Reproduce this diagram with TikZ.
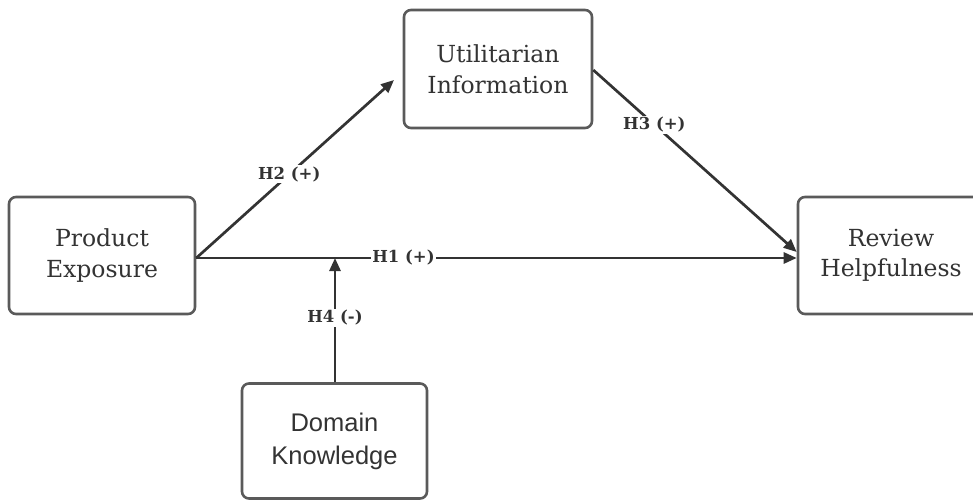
\documentclass[tikz,border=0pt]{standalone}
\usepackage{fontspec}
\setmainfont{DejaVu Serif}
\newfontfamily\boxsans{Liberation Sans}
\usetikzlibrary{arrows.meta}
\definecolor{boxline}{HTML}{5A5A5A}
\definecolor{ink}{HTML}{333333}
\tikzset{
  concept/.style={draw=boxline, line width=2.6pt, rounded corners=7pt, fill=white,
    text=ink, align=center, font=\fontsize{23.5}{30.5}\selectfont},
  link/.style={draw=ink, line width=2.7pt, -{Triangle[length=13pt,width=11pt]}},
  hyp/.style={fill=white, text=ink, inner sep=1.5pt, font=\bfseries\fontsize{16.5}{19}\selectfont}
}
\begin{document}
\begin{tikzpicture}[x=1pt,y=-1pt]
  \useasboundingbox (0,0) rectangle (973,500);
  \clip (0,0) rectangle (973,500);
  % constructs
  \node[concept, minimum width=186pt, minimum height=117pt] (pe) at (102,255.5) {Product\\Exposure};
  \node[concept, minimum width=188pt, minimum height=118pt] (ui) at (498,69) {Utilitarian\\Information};
  \node[concept, minimum width=186pt, minimum height=117pt] (rh) at (891,255.5) {Review\\Helpfulness};
  \node[concept, minimum width=185pt, minimum height=115pt, font=\boxsans\fontsize{25.5}{33}\selectfont] (dk) at (334.5,441) {Domain\\Knowledge};
  % paths
  \coordinate (mod) at (335,258);
  \draw[link] (pe.east |- 0,258) -- node[hyp, pos=0.345] {H1 (+)} (rh.west |- 0,258);
  \draw[link] (pe.east |- 0,258) -- node[hyp, pos=0.47] {H2 (+)} (394,80);
  \draw[link] (ui.east |- 0,70) -- node[hyp, pos=0.3] {H3 (+)} (rh.west |- 0,252);
  \draw[link] (dk.north -| mod) -- node[hyp, pos=0.52] {H4 (-)} (mod);
\end{tikzpicture}
\end{document}
